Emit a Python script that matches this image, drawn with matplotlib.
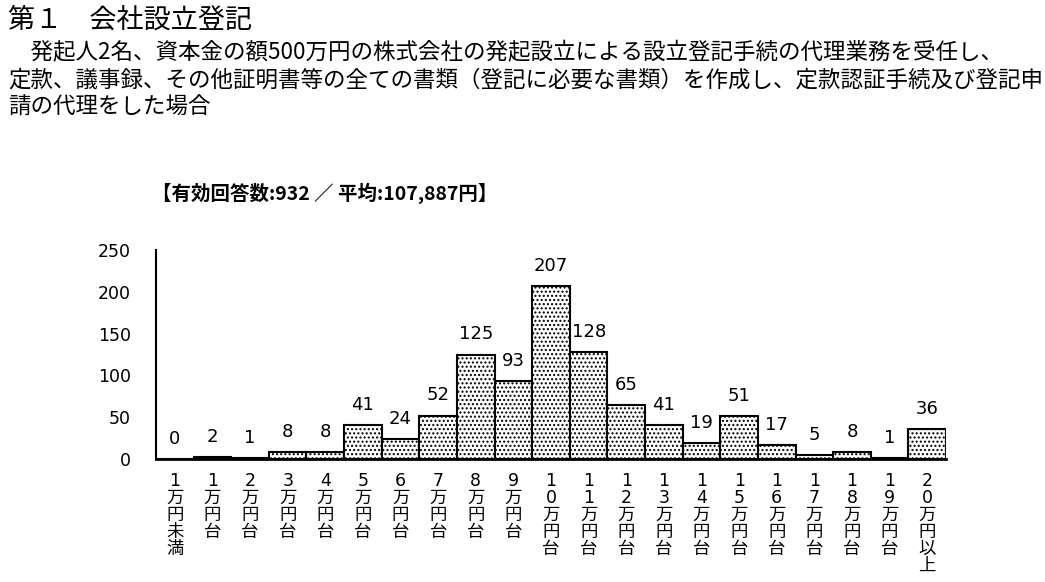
import matplotlib
matplotlib.use("Agg")
from matplotlib import pyplot as plt

categories = ["1万円未満", "1万円台", "2万円台", "3万円台", "4万円台", "5万円台",
              "6万円台", "7万円台", "8万円台", "9万円台", "10万円台", "11万円台",
              "12万円台", "13万円台", "14万円台", "15万円台", "16万円台", "17万円台",
              "18万円台", "19万円台", "20万円以上"]
counts = [0, 2, 1, 8, 8, 41, 24, 52, 125, 93, 207, 128, 65, 41, 19, 51, 17, 5, 8, 1, 36]
yticks = [0, 50, 100, 150, 200, 250]

title = "第１　会社設立登記"
body = ("　発起人2名、資本金の額500万円の株式会社の発起設立による設立登記手続の代理業務を受任し、\n"
        "定款、議事録、その他証明書等の全ての書類（登記に必要な書類）を作成し、定款認証手続及び登記申\n"
        "請の代理をした場合")
header = "【有効回答数:932 ／ 平均:107,887円】"

jp = ["Noto Sans CJK JP", "DejaVu Sans"]
mix = ["DejaVu Sans", "Noto Sans CJK JP"]


def create_plot():
    plt.rcParams["hatch.linewidth"] = 1.0
    fig = plt.figure(figsize=(10.45, 5.82), dpi=100)
    ax = fig.add_axes([0.1493, 0.2113, 0.756, 0.359])

    x = list(range(len(categories)))
    ax.bar(x, counts, width=1.0, color="white", edgecolor="black",
           linewidth=1.5, hatch="....")
    for xi, v in zip(x, counts):
        ax.annotate(str(v), (xi, v), xytext=(0, 8), textcoords="offset points",
                    ha="center", va="bottom", fontsize=13, family=mix)

    ax.set_xlim(-0.5, len(categories) - 0.5)
    ax.set_ylim(0, 250)
    ax.set_yticks(yticks)
    ax.set_yticklabels([str(t) for t in yticks], fontsize=12.5, family=mix)
    ax.tick_params(axis="y", length=0, pad=18)
    ax.tick_params(axis="x", length=0, pad=9)
    ax.set_xticks(x)
    ax.set_xticklabels(["\n".join(c) for c in categories], fontsize=12.5,
                       family=mix, va="top", linespacing=0.93)
    ax.spines["top"].set_visible(False)
    ax.spines["right"].set_visible(False)
    ax.spines["left"].set_linewidth(1.5)
    ax.spines["bottom"].set_linewidth(2)

    fig.text(0.008, 0.965, title, fontsize=19.5, family=jp, va="center", ha="left")
    fig.text(0.008, 0.862, body, fontsize=16.2, family=jp, va="center", ha="left",
             linespacing=1.23)
    fig.text(0.311, 0.668, header, fontsize=14, family=jp, weight="bold",
             va="center", ha="center")

    fig.savefig("out.png", dpi=100)
    plt.close(fig)


def main():
    create_plot()


if __name__ == "__main__":
    main()
